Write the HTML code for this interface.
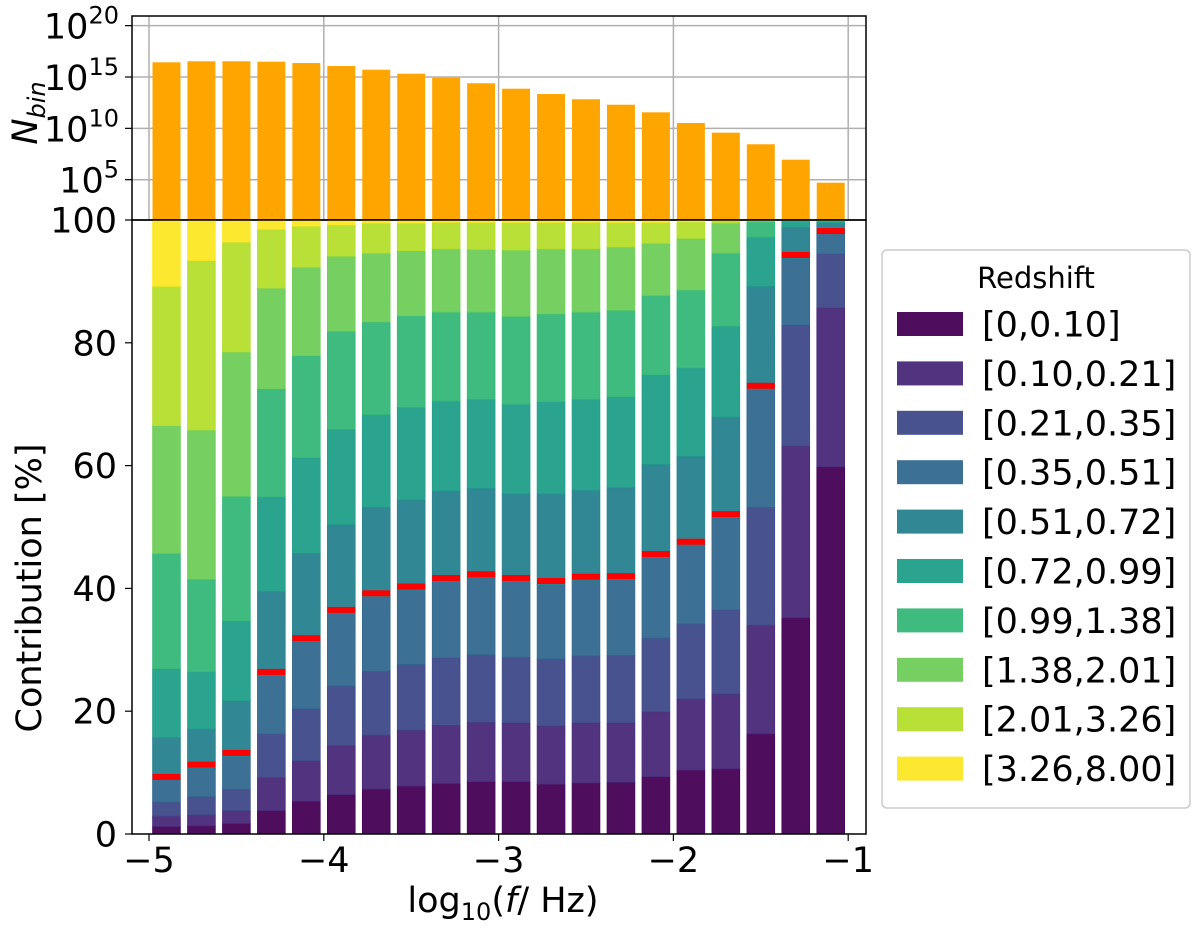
<!DOCTYPE html>
<html><head><meta charset="utf-8"><style>
body{margin:0;background:#fff}
svg text{font-family:"DejaVu Sans","Liberation Sans",sans-serif;fill:#000}
</style></head><body>
<svg id="chart" width="1200" height="928" xmlns="http://www.w3.org/2000/svg">
<g id="topPanel"></g>
<g id="botPanel"></g>
<g id="legendGroup"></g>
</svg>
<script>
const freqCenters=[-4.9,-4.7,-4.5,-4.3,-4.1,-3.9,-3.7,-3.5,-3.3,-3.1,-2.9,-2.7,-2.5,-2.3,-2.1,-1.9,-1.7,-1.5,-1.3,-1.1];
const logNbin=[16.43,16.53,16.53,16.49,16.36,16.07,15.71,15.32,14.93,14.39,13.86,13.34,12.83,12.30,11.56,10.52,9.58,8.45,6.95,4.71];
const cum1=[1.2,1.3,1.7,3.8,5.3,6.4,7.3,7.8,8.2,8.5,8.5,8.1,8.3,8.4,9.3,10.4,10.6,16.3,35.2,59.8];
const cum2=[2.9,3.1,3.8,9.2,11.9,14.4,16.1,16.9,17.7,18.2,18.1,17.6,18.1,18.1,19.9,22.0,22.8,34.0,63.2,85.7];
const cum3=[5.2,6.1,7.3,16.3,20.4,24.1,26.5,27.6,28.7,29.2,28.8,28.5,29.0,29.1,31.9,34.2,36.5,53.2,82.9,94.5];
const cum4=[8.9,10.7,12.6,25.8,31.3,35.9,38.6,39.7,41.1,41.7,41.1,40.6,41.3,41.4,45.0,47.1,51.5,72.4,93.7,97.8];
const cum5=[15.7,17.1,21.7,39.5,45.7,50.4,53.2,54.4,55.9,56.3,55.4,55.4,56.0,56.4,60.2,61.5,67.9,89.2,98.8,99.5];
const cum6=[26.9,26.4,34.7,54.9,61.3,65.9,68.3,69.5,70.5,70.8,70.0,70.4,70.8,71.2,74.8,75.9,82.7,97.2,99.8,99.8];
const cum7=[45.7,41.5,55.0,72.5,77.9,81.9,83.4,84.4,85.0,85.0,84.3,84.7,85.0,85.3,87.7,88.6,94.6,99.7,100,99.9];
const cum8=[66.5,65.8,78.5,88.9,92.3,94.1,94.6,95.0,95.3,95.2,95.1,95.3,95.3,95.6,96.2,97.0,99.5,99.95,100,100];
const cum9=[89.2,93.4,96.4,98.5,99.0,99.2,99.5,99.5,99.6,99.6,99.6,99.6,99.6,99.6,99.6,99.7,99.9,100,100,100];
const redMark=[9.3,11.3,13.2,26.4,31.9,36.5,39.2,40.3,41.7,42.3,41.7,41.2,41.9,42.0,45.6,47.6,52.1,73.0,94.3,98.2];
const classLabels=["[0,0.10]","[0.10,0.21]","[0.21,0.35]","[0.35,0.51]","[0.51,0.72]","[0.72,0.99]","[0.99,1.38]","[1.38,2.01]","[2.01,3.26]","[3.26,8.00]"];
const xTicks=[-5,-4,-3,-2,-1];
const yTicksBot=[0,20,40,60,80,100];
const yTicksTopExp=[5,10,15,20];
const colors=["#440154","#482878","#3e4989","#31688e","#26828e","#1f9e89","#35b779","#6ece58","#b5de2b","#fde725"];
const NS="http://www.w3.org/2000/svg";
function mk(t,a,p){const e=document.createElementNS(NS,t);for(const k in a)e.setAttribute(k,a[k]);p.appendChild(e);return e;}
const X=v=>149+(v+5)*174.8;
const YB=v=>834-v*6.14;
const YT=lg=>Math.min(220.3,179.7-(lg-5)*10.27);
const PL=132,PR=866,FS=35;
const topG=document.getElementById('topPanel'),botG=document.getElementById('botPanel'),legG=document.getElementById('legendGroup');
const bw=0.16*174.8;
xTicks.forEach(v=>{const g=mk('line',{x1:X(v),x2:X(v),y1:16,y2:220,stroke:'#b0b0b0','stroke-width':1.5},topG);

});
yTicksTopExp.forEach(e=>{const g=mk('line',{x1:PL,x2:PR,y1:YT(e),y2:YT(e),stroke:'#b0b0b0','stroke-width':1.5},topG);


mk('line',{x1:PL-7,x2:PL,y1:YT(e),y2:YT(e),stroke:'#000','stroke-width':1.2},topG);
const t=mk('text',{x:PL-13,y:YT(e)+13,'text-anchor':'end','font-size':FS},topG);


t.innerHTML='10<tspan dy="-15" font-size="24">'+e+'</tspan>';});
freqCenters.forEach((f,i)=>{const r=mk('rect',{x:X(f)-bw/2,y:YT(logNbin[i]),width:bw,height:220.3-YT(logNbin[i]),fill:'#ffa500'},topG);

});
mk('rect',{x:PL,y:16,width:PR-PL,height:204,fill:'none',stroke:'#000','stroke-width':1.5},topG);
{const t=mk('text',{transform:'translate(37,113) rotate(-90)','text-anchor':'middle','font-size':FS,'font-style':'italic'},topG);


t.innerHTML='N<tspan dy="8" font-size="24">bin</tspan>';}
const cums=[cum1,cum2,cum3,cum4,cum5,cum6,cum7,cum8,cum9];
freqCenters.forEach((f,i)=>{let prev=0;
for(let k=0;k<10;k++){const c=k<9?cums[k][i]:100;const h=(c-prev)*6.14;
if(h>0){const r=mk('rect',{x:X(f)-bw/2,y:YB(c),width:bw,height:h,fill:colors[k],'fill-opacity':0.95,stroke:colors[k],'stroke-width':0.6},botG);

}
prev=Math.max(prev,c);}
const m=mk('rect',{x:X(f)-bw/2,y:YB(redMark[i])-3,width:bw,height:6,fill:'#ff0000'},botG);

});
mk('rect',{x:PL,y:220,width:PR-PL,height:614,fill:'none',stroke:'#000','stroke-width':1.5},botG);
yTicksBot.forEach(v=>{mk('line',{x1:PL-7,x2:PL,y1:YB(v),y2:YB(v),stroke:'#000','stroke-width':1.2},botG);
const t=mk('text',{x:PL-15,y:YB(v)+12.5,'text-anchor':'end','font-size':FS},botG);


t.textContent=v;});
xTicks.forEach(v=>{mk('line',{x1:X(v),x2:X(v),y1:834,y2:841,stroke:'#000','stroke-width':1.2},botG);
const t=mk('text',{x:X(v),y:872,'text-anchor':'middle','font-size':FS},botG);


t.textContent='\u2212'+Math.abs(v);});
{const t=mk('text',{transform:'translate(41,588) rotate(-90)','text-anchor':'middle','font-size':FS},botG);


t.textContent='Contribution [%]';
const x=mk('text',{x:503,y:912,'text-anchor':'middle','font-size':FS},botG);


x.innerHTML='log<tspan dy="8" font-size="24">10</tspan><tspan dy="-8">(</tspan><tspan font-style="italic">f</tspan>/ Hz)';}
{const b=mk('rect',{x:882,y:250,width:308,height:558,rx:5,fill:'#fff',stroke:'#ccc','stroke-width':1.5},legG);


const t=mk('text',{x:1036,y:288,'text-anchor':'middle','font-size':29},legG);


t.textContent='Redshift';}
classLabels.forEach((lab,k)=>{const cy=324+k*49.4;
const p=mk('rect',{x:897,y:cy-12,width:66,height:24,fill:colors[k],'fill-opacity':0.95},legG);


const t=mk('text',{x:982,y:cy+12.5,'font-size':FS},legG);


t.textContent=lab;});
</script>
</body></html>
